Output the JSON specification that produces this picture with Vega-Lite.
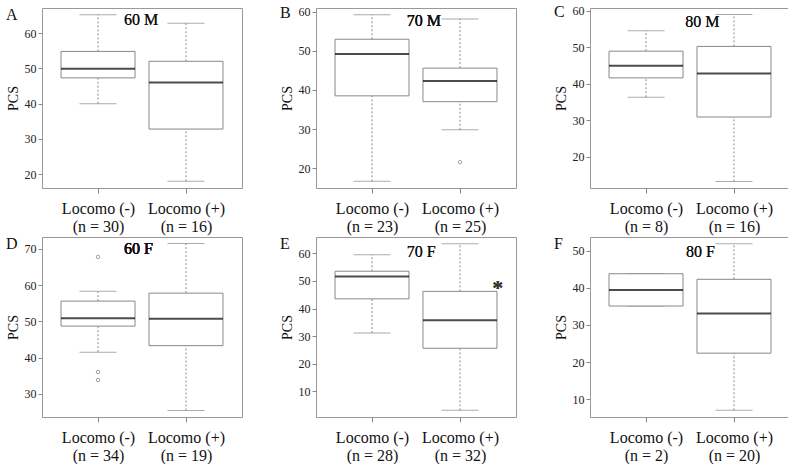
{
  "$schema": "https://vega.github.io/schema/vega-lite/v6.json",
  "background": "white",
  "padding": {"left": 5, "top": 3, "right": 2, "bottom": 0},
  "spacing": 0,
  "config": {
    "font": "Liberation Serif",
    "view": {"stroke": "#999999", "strokeWidth": 1},
    "axis": {"grid": false, "domain": false, "tickColor": "#888888", "tickSize": 4, "labelFont": "Liberation Serif", "labelFontSize": 12, "labelColor": "#222222", "labelOverlap": false, "titleFont": "Liberation Serif", "titleFontSize": 14, "titleFontWeight": "normal", "titleColor": "#111111", "labelPadding": 2, "titlePadding": 4},
    "axisX": {"labelFontSize": 16, "tickSize": 5, "labelPadding": 7, "labelLineHeight": 18, "labelColor": "#111111", "labelFlush": false},
    "text": {"font": "Liberation Serif", "fontWeight": "normal"},
    "title": {"font": "Liberation Serif", "fontSize": 16, "fontWeight": "normal", "anchor": "start", "frame": "bounds", "offset": -15, "color": "#111111"},
    "concat": {"spacing": 36}
  },
  "datasets": {
    "pcs": [
      {"panel": "A", "pos": 1, "lower": 40, "q1": 47.3, "median": 49.9, "q3": 54.8, "upper": 65.2},
      {"panel": "A", "pos": 2, "lower": 18, "q1": 32.8, "median": 46, "q3": 52, "upper": 62.8},
      {"panel": "B", "pos": 1, "lower": 16.6, "q1": 38.5, "median": 49.2, "q3": 53.0, "upper": 59.3},
      {"panel": "B", "pos": 2, "lower": 29.8, "q1": 37.0, "median": 42.3, "q3": 45.6, "upper": 58.2},
      {"panel": "B", "pos": 2, "value": 21.5},
      {"panel": "C", "pos": 1, "lower": 36.3, "q1": 41.6, "median": 44.9, "q3": 48.9, "upper": 54.5},
      {"panel": "C", "pos": 2, "lower": 13.3, "q1": 30.9, "median": 42.8, "q3": 50.2, "upper": 58.9},
      {"panel": "D", "pos": 1, "lower": 41.5, "q1": 48.7, "median": 50.9, "q3": 55.6, "upper": 58.3},
      {"panel": "D", "pos": 1, "value": 67.8},
      {"panel": "D", "pos": 1, "value": 36.0},
      {"panel": "D", "pos": 1, "value": 33.8},
      {"panel": "D", "pos": 2, "lower": 25.4, "q1": 43.3, "median": 50.7, "q3": 57.8, "upper": 71.5},
      {"panel": "E", "pos": 1, "lower": 31.1, "q1": 43.5, "median": 51.6, "q3": 53.5, "upper": 59.5},
      {"panel": "E", "pos": 2, "lower": 3.1, "q1": 25.6, "median": 35.7, "q3": 46.2, "upper": 63.5},
      {"panel": "F", "pos": 1, "lower": 35.1, "q1": 35.1, "median": 39.4, "q3": 43.8, "upper": 43.8},
      {"panel": "F", "pos": 2, "lower": 7.0, "q1": 22.4, "median": 33.1, "q3": 42.3, "upper": 51.9}
    ]
  },
  "vconcat": [
    {"spacing": 36, "hconcat": [
      {"width": 200, "height": 180, "data": {"name": "pcs"}, "title": "A",
       "transform": [{"filter": "datum.panel == 'A'"}],
       "encoding": {"x": {"field": "pos", "type": "quantitative", "scale": {"domain": [0.42, 2.58], "nice": false, "zero": false}, "axis": {"values": [1, 2], "title": null, "labelExpr": "datum.value == 1 ? ['Locomo (-)', '(n = 30)'] : ['Locomo (+)', '(n = 16)']"}}},
       "layer": [
        {"mark": {"type": "rule", "strokeDash": [2, 2], "color": "#888888"}, "encoding": {"y": {"field": "lower", "type": "quantitative", "scale": {"domain": [16.1, 67.1], "nice": false, "zero": false}, "axis": {"values": [20, 30, 40, 50, 60], "title": "PCS", "labelOverlap": false}}, "y2": {"field": "q1"}}},
        {"mark": {"type": "rule", "strokeDash": [2, 2], "color": "#888888"}, "encoding": {"y": {"field": "q3", "type": "quantitative"}, "y2": {"field": "upper"}}},
        {"mark": {"type": "tick", "orient": "horizontal", "size": 37, "thickness": 1, "color": "#888888"}, "encoding": {"y": {"field": "lower", "type": "quantitative"}}},
        {"mark": {"type": "tick", "orient": "horizontal", "size": 37, "thickness": 1, "color": "#888888"}, "encoding": {"y": {"field": "upper", "type": "quantitative"}}},
        {"mark": {"type": "bar", "width": 74, "fill": "white", "stroke": "#888888", "strokeWidth": 1}, "encoding": {"y": {"field": "q1", "type": "quantitative"}, "y2": {"field": "q3"}}},
        {"mark": {"type": "tick", "orient": "horizontal", "size": 74, "thickness": 2, "color": "#000000"}, "encoding": {"y": {"field": "median", "type": "quantitative"}}},
        {"mark": {"type": "point", "shape": "circle", "size": 12, "filled": false, "color": "#777777", "strokeWidth": 1}, "encoding": {"y": {"field": "value", "type": "quantitative"}}},
        {"mark": {"type": "text", "fontSize": 16, "color": "#111111"}, "encoding": {"x": {"datum": 1.49}, "y": {"datum": 63.6}, "text": {"value": "60 M"}}}
       ]},
      {"width": 200, "height": 180, "data": {"name": "pcs"}, "title": "B",
       "transform": [{"filter": "datum.panel == 'B'"}],
       "encoding": {"x": {"field": "pos", "type": "quantitative", "scale": {"domain": [0.42, 2.58], "nice": false, "zero": false}, "axis": {"values": [1, 2], "title": null, "labelExpr": "datum.value == 1 ? ['Locomo (-)', '(n = 23)'] : ['Locomo (+)', '(n = 25)']"}}},
       "layer": [
        {"mark": {"type": "rule", "strokeDash": [2, 2], "color": "#888888"}, "encoding": {"y": {"field": "lower", "type": "quantitative", "scale": {"domain": [14.9, 61.0], "nice": false, "zero": false}, "axis": {"values": [20, 30, 40, 50, 60], "title": "PCS", "labelOverlap": false}}, "y2": {"field": "q1"}}},
        {"mark": {"type": "rule", "strokeDash": [2, 2], "color": "#888888"}, "encoding": {"y": {"field": "q3", "type": "quantitative"}, "y2": {"field": "upper"}}},
        {"mark": {"type": "tick", "orient": "horizontal", "size": 37, "thickness": 1, "color": "#888888"}, "encoding": {"y": {"field": "lower", "type": "quantitative"}}},
        {"mark": {"type": "tick", "orient": "horizontal", "size": 37, "thickness": 1, "color": "#888888"}, "encoding": {"y": {"field": "upper", "type": "quantitative"}}},
        {"mark": {"type": "bar", "width": 74, "fill": "white", "stroke": "#888888", "strokeWidth": 1}, "encoding": {"y": {"field": "q1", "type": "quantitative"}, "y2": {"field": "q3"}}},
        {"mark": {"type": "tick", "orient": "horizontal", "size": 74, "thickness": 2, "color": "#000000"}, "encoding": {"y": {"field": "median", "type": "quantitative"}}},
        {"mark": {"type": "point", "shape": "circle", "size": 12, "filled": false, "color": "#777777", "strokeWidth": 1}, "encoding": {"y": {"field": "value", "type": "quantitative"}}},
        {"mark": {"type": "text", "fontSize": 16, "color": "#111111"}, "encoding": {"x": {"datum": 1.59}, "y": {"datum": 57.6}, "text": {"value": "70 M"}}}
       ]},
      {"width": 200, "height": 180, "data": {"name": "pcs"}, "title": "C",
       "transform": [{"filter": "datum.panel == 'C'"}],
       "encoding": {"x": {"field": "pos", "type": "quantitative", "scale": {"domain": [0.42, 2.58], "nice": false, "zero": false}, "axis": {"values": [1, 2], "title": null, "labelExpr": "datum.value == 1 ? ['Locomo (-)', '(n = 8)'] : ['Locomo (+)', '(n = 16)']"}}},
       "layer": [
        {"mark": {"type": "rule", "strokeDash": [2, 2], "color": "#888888"}, "encoding": {"y": {"field": "lower", "type": "quantitative", "scale": {"domain": [11.5, 60.7], "nice": false, "zero": false}, "axis": {"values": [20, 30, 40, 50, 60], "title": "PCS", "labelOverlap": false}}, "y2": {"field": "q1"}}},
        {"mark": {"type": "rule", "strokeDash": [2, 2], "color": "#888888"}, "encoding": {"y": {"field": "q3", "type": "quantitative"}, "y2": {"field": "upper"}}},
        {"mark": {"type": "tick", "orient": "horizontal", "size": 37, "thickness": 1, "color": "#888888"}, "encoding": {"y": {"field": "lower", "type": "quantitative"}}},
        {"mark": {"type": "tick", "orient": "horizontal", "size": 37, "thickness": 1, "color": "#888888"}, "encoding": {"y": {"field": "upper", "type": "quantitative"}}},
        {"mark": {"type": "bar", "width": 74, "fill": "white", "stroke": "#888888", "strokeWidth": 1}, "encoding": {"y": {"field": "q1", "type": "quantitative"}, "y2": {"field": "q3"}}},
        {"mark": {"type": "tick", "orient": "horizontal", "size": 74, "thickness": 2, "color": "#000000"}, "encoding": {"y": {"field": "median", "type": "quantitative"}}},
        {"mark": {"type": "point", "shape": "circle", "size": 12, "filled": false, "color": "#777777", "strokeWidth": 1}, "encoding": {"y": {"field": "value", "type": "quantitative"}}},
        {"mark": {"type": "text", "fontSize": 16, "color": "#111111"}, "encoding": {"x": {"datum": 1.64}, "y": {"datum": 56.9}, "text": {"value": "80 M"}}}
       ]}
    ]},
    {"spacing": 36, "hconcat": [
      {"width": 200, "height": 180, "data": {"name": "pcs"}, "title": "D",
       "transform": [{"filter": "datum.panel == 'D'"}],
       "encoding": {"x": {"field": "pos", "type": "quantitative", "scale": {"domain": [0.42, 2.58], "nice": false, "zero": false}, "axis": {"values": [1, 2], "title": null, "labelExpr": "datum.value == 1 ? ['Locomo (-)', '(n = 34)'] : ['Locomo (+)', '(n = 19)']"}}},
       "layer": [
        {"mark": {"type": "rule", "strokeDash": [2, 2], "color": "#888888"}, "encoding": {"y": {"field": "lower", "type": "quantitative", "scale": {"domain": [23.6, 73.3], "nice": false, "zero": false}, "axis": {"values": [30, 40, 50, 60, 70], "title": "PCS", "labelOverlap": false}}, "y2": {"field": "q1"}}},
        {"mark": {"type": "rule", "strokeDash": [2, 2], "color": "#888888"}, "encoding": {"y": {"field": "q3", "type": "quantitative"}, "y2": {"field": "upper"}}},
        {"mark": {"type": "tick", "orient": "horizontal", "size": 37, "thickness": 1, "color": "#888888"}, "encoding": {"y": {"field": "lower", "type": "quantitative"}}},
        {"mark": {"type": "tick", "orient": "horizontal", "size": 37, "thickness": 1, "color": "#888888"}, "encoding": {"y": {"field": "upper", "type": "quantitative"}}},
        {"mark": {"type": "bar", "width": 74, "fill": "white", "stroke": "#888888", "strokeWidth": 1}, "encoding": {"y": {"field": "q1", "type": "quantitative"}, "y2": {"field": "q3"}}},
        {"mark": {"type": "tick", "orient": "horizontal", "size": 74, "thickness": 2, "color": "#000000"}, "encoding": {"y": {"field": "median", "type": "quantitative"}}},
        {"mark": {"type": "point", "shape": "circle", "size": 12, "filled": false, "color": "#777777", "strokeWidth": 1}, "encoding": {"y": {"field": "value", "type": "quantitative"}}},
        {"mark": {"type": "text", "fontSize": 16, "color": "#111111"}, "encoding": {"x": {"datum": 1.46}, "y": {"datum": 69.9}, "text": {"value": "60 F"}}}
       ]},
      {"width": 200, "height": 180, "data": {"name": "pcs"}, "title": "E",
       "transform": [{"filter": "datum.panel == 'E'"}],
       "encoding": {"x": {"field": "pos", "type": "quantitative", "scale": {"domain": [0.42, 2.58], "nice": false, "zero": false}, "axis": {"values": [1, 2], "title": null, "labelExpr": "datum.value == 1 ? ['Locomo (-)', '(n = 28)'] : ['Locomo (+)', '(n = 32)']"}}},
       "layer": [
        {"mark": {"type": "rule", "strokeDash": [2, 2], "color": "#888888"}, "encoding": {"y": {"field": "lower", "type": "quantitative", "scale": {"domain": [0.7, 65.9], "nice": false, "zero": false}, "axis": {"values": [10, 20, 30, 40, 50, 60], "tickCount": 6, "title": "PCS", "labelOverlap": false, "labelSeparation": 0, "labelBound": false}}, "y2": {"field": "q1"}}},
        {"mark": {"type": "rule", "strokeDash": [2, 2], "color": "#888888"}, "encoding": {"y": {"field": "q3", "type": "quantitative"}, "y2": {"field": "upper"}}},
        {"mark": {"type": "tick", "orient": "horizontal", "size": 37, "thickness": 1, "color": "#888888"}, "encoding": {"y": {"field": "lower", "type": "quantitative"}}},
        {"mark": {"type": "tick", "orient": "horizontal", "size": 37, "thickness": 1, "color": "#888888"}, "encoding": {"y": {"field": "upper", "type": "quantitative"}}},
        {"mark": {"type": "bar", "width": 74, "fill": "white", "stroke": "#888888", "strokeWidth": 1}, "encoding": {"y": {"field": "q1", "type": "quantitative"}, "y2": {"field": "q3"}}},
        {"mark": {"type": "tick", "orient": "horizontal", "size": 74, "thickness": 2, "color": "#000000"}, "encoding": {"y": {"field": "median", "type": "quantitative"}}},
        {"mark": {"type": "point", "shape": "circle", "size": 12, "filled": false, "color": "#777777", "strokeWidth": 1}, "encoding": {"y": {"field": "value", "type": "quantitative"}}},
        {"mark": {"type": "text", "fontSize": 16, "color": "#111111"}, "encoding": {"x": {"datum": 1.56}, "y": {"datum": 60.6}, "text": {"value": "70 F"}}},
        {"mark": {"type": "text", "fontSize": 22, "fontWeight": "bold", "color": "#333333", "dy": 5}, "encoding": {"x": {"datum": 2.43}, "y": {"datum": 49.2}, "text": {"value": "*"}}}
       ]},
      {"width": 200, "height": 180, "data": {"name": "pcs"}, "title": "F",
       "transform": [{"filter": "datum.panel == 'F'"}],
       "encoding": {"x": {"field": "pos", "type": "quantitative", "scale": {"domain": [0.42, 2.58], "nice": false, "zero": false}, "axis": {"values": [1, 2], "title": null, "labelExpr": "datum.value == 1 ? ['Locomo (-)', '(n = 2)'] : ['Locomo (+)', '(n = 20)']"}}},
       "layer": [
        {"mark": {"type": "rule", "strokeDash": [2, 2], "color": "#888888"}, "encoding": {"y": {"field": "lower", "type": "quantitative", "scale": {"domain": [5.2, 53.7], "nice": false, "zero": false}, "axis": {"values": [10, 20, 30, 40, 50], "title": "PCS", "labelOverlap": false}}, "y2": {"field": "q1"}}},
        {"mark": {"type": "rule", "strokeDash": [2, 2], "color": "#888888"}, "encoding": {"y": {"field": "q3", "type": "quantitative"}, "y2": {"field": "upper"}}},
        {"mark": {"type": "tick", "orient": "horizontal", "size": 37, "thickness": 1, "color": "#888888"}, "encoding": {"y": {"field": "lower", "type": "quantitative"}}},
        {"mark": {"type": "tick", "orient": "horizontal", "size": 37, "thickness": 1, "color": "#888888"}, "encoding": {"y": {"field": "upper", "type": "quantitative"}}},
        {"mark": {"type": "bar", "width": 74, "fill": "white", "stroke": "#888888", "strokeWidth": 1}, "encoding": {"y": {"field": "q1", "type": "quantitative"}, "y2": {"field": "q3"}}},
        {"mark": {"type": "tick", "orient": "horizontal", "size": 74, "thickness": 2, "color": "#000000"}, "encoding": {"y": {"field": "median", "type": "quantitative"}}},
        {"mark": {"type": "point", "shape": "circle", "size": 12, "filled": false, "color": "#777777", "strokeWidth": 1}, "encoding": {"y": {"field": "value", "type": "quantitative"}}},
        {"mark": {"type": "text", "fontSize": 16, "color": "#111111"}, "encoding": {"x": {"datum": 1.62}, "y": {"datum": 49.7}, "text": {"value": "80 F"}}}
       ]}
    ]}
  ]
}
